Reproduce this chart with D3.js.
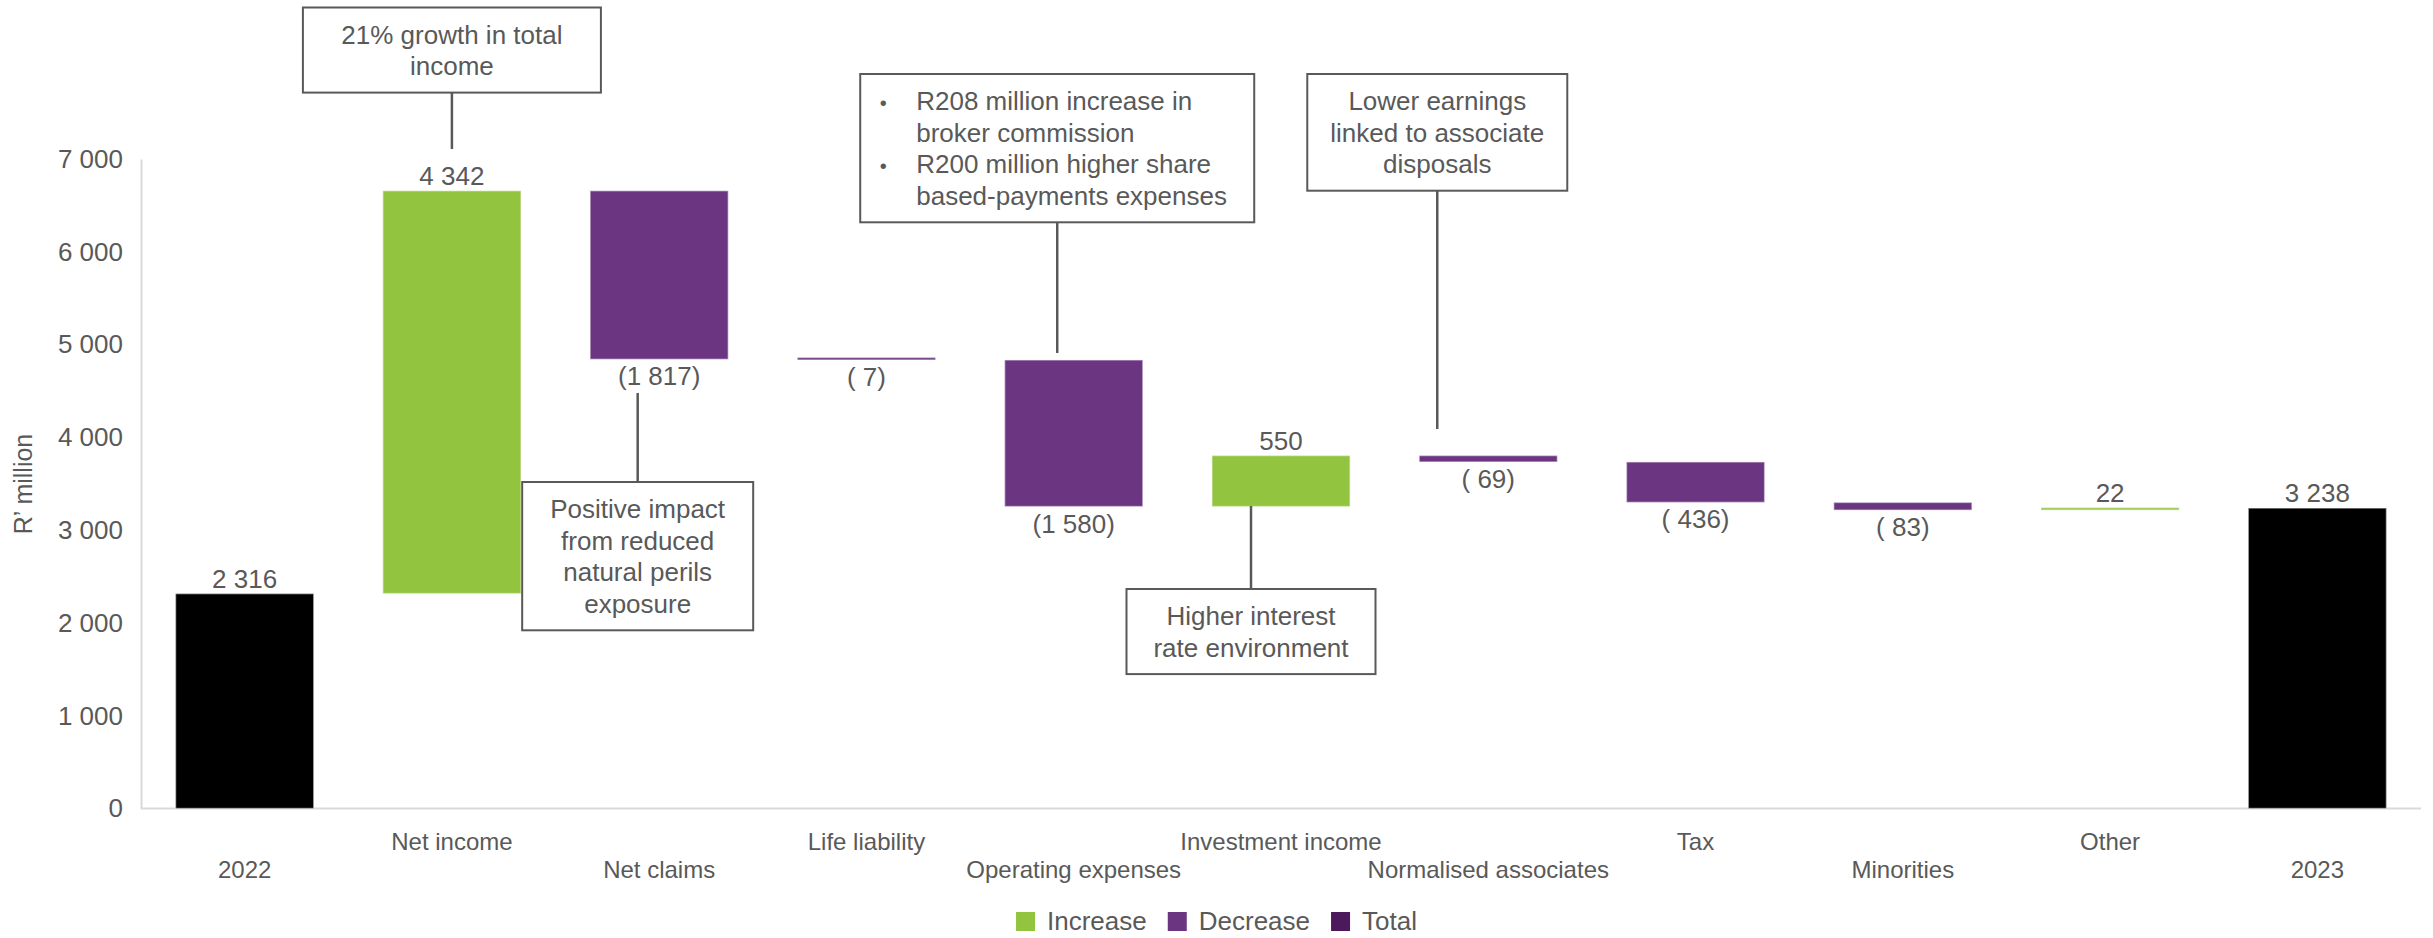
<!DOCTYPE html>
<html>
<head>
<meta charset="utf-8">
<script src="https://cdn.jsdelivr.net/npm/d3@7"></script>
<style>
  html, body { margin: 0; padding: 0; background: #ffffff; }
  svg { display: block; font-family: "Liberation Sans", Arial, sans-serif; }
</style>
</head>
<body>
<svg id="chart" width="2433" height="938"></svg>
<script>
// Earnings bridge, R' million
const categories = ["2022", "Net income", "Net claims", "Life liability", "Operating expenses",
  "Investment income", "Normalised associates", "Tax", "Minorities", "Other", "2023"];
const changes = [2316, 4342, -1817, -7, -1580, 550, -69, -436, -83, 22, 3238];
const kinds = ["total", "increase", "decrease", "decrease", "decrease",
  "increase", "decrease", "decrease", "decrease", "increase", "total"];
const yTicks = [0, 1000, 2000, 3000, 4000, 5000, 6000, 7000];
const legendItems = ["Increase", "Decrease", "Total"];

const colors = { increase: "#92c43f", decrease: "#6c3582", total: "#000000" };
const legendColors = { Increase: "#92c43f", Decrease: "#6c3582", Total: "#4c1a5c" };
const textColor = "#595959";

// Callout boxes attached to individual steps
const notes = [
  { cat: "Net income", lines: ["21% growth in total", "income"], top: 7.5, width: 298, dx: 0, side: "above", lineY: 149 },
  { cat: "Net claims", lines: ["Positive impact", "from reduced", "natural perils", "exposure"], top: 482, width: 231, dx: -21.5, side: "below", lineY: 393 },
  { cat: "Operating expenses", lines: ["R208 million increase in", "broker commission", "R200 million higher share", "based-payments expenses"],
    bullets: [true, false, true, false], top: 74, width: 394, dx: -16.5, side: "above", lineY: 353 },
  { cat: "Investment income", lines: ["Higher interest", "rate environment"], top: 589, width: 249, dx: -30, side: "below", lineY: 506 },
  { cat: "Normalised associates", lines: ["Lower earnings", "linked to associate", "disposals"], top: 74, width: 260, dx: -51, side: "above", lineY: 429 }
];

const svg = d3.select("#chart");

const x = d3.scaleBand().domain(categories).range([141, 2421]).paddingInner(1 / 3).paddingOuter(1 / 6);
const y = d3.scaleLinear().domain([0, 7000]).range([808.5, 159]);

// Running levels for the waterfall
let level = 0;
const steps = categories.map((c, i) => {
  let lo, hi;
  if (kinds[i] === "total") { lo = 0; hi = changes[i]; level = changes[i]; }
  else { const next = level + changes[i]; lo = Math.min(level, next); hi = Math.max(level, next); level = next; }
  return { cat: c, value: changes[i], kind: kinds[i], lo, hi };
});

const fmtInt = v => d3.format(",")(v).replace(/,/g, " ");
const fmtLabel = v => v >= 0 ? fmtInt(v) : (Math.abs(v) < 1000 ? "( " + fmtInt(-v) + ")" : "(" + fmtInt(-v) + ")");

// Y axis
const yAxis = svg.append("g")
  .attr("transform", `translate(${x.range()[0]},0)`)
  .call(d3.axisLeft(y).tickValues(yTicks).tickSize(0).tickPadding(18).tickFormat(fmtInt));
yAxis.select(".domain").attr("stroke", "#d9d9d9").attr("stroke-width", 2);
yAxis.selectAll("text").attr("fill", textColor).attr("font-size", 26)
  .attr("font-family", "\"Liberation Sans\", Arial, sans-serif");

svg.append("text")
  .attr("transform", `translate(32,484) rotate(-90)`)
  .attr("text-anchor", "middle")
  .attr("fill", textColor).attr("font-size", 25)
  .text("R\u2019 million");

// X axis baseline
svg.append("line")
  .attr("x1", x.range()[0]).attr("x2", x.range()[1])
  .attr("y1", y(0)).attr("y2", y(0))
  .attr("stroke", "#d9d9d9").attr("stroke-width", 2);

// Category labels, staggered on two rows
svg.append("g").selectAll("text").data(categories).join("text")
  .attr("x", d => x(d) + x.bandwidth() / 2)
  .attr("y", (d, i) => i % 2 === 1 ? 850 : 878)
  .attr("text-anchor", "middle")
  .attr("fill", textColor).attr("font-size", 24)
  .text(d => d);

// Bars (very small steps keep a visible sliver)
svg.append("g").selectAll("rect").data(steps).join("rect")
  .attr("x", d => x(d.cat))
  .attr("width", x.bandwidth())
  .attr("y", d => Math.min(y(d.hi), y(d.lo) - 2.5))
  .attr("height", d => Math.max(2.5, y(d.lo) - y(d.hi)))
  .attr("fill", d => colors[d.kind])
  .attr("stroke", "#ffffff").attr("stroke-opacity", 0.45).attr("stroke-width", 1.5);

// Value labels
svg.append("g").selectAll("text").data(steps).join("text")
  .attr("x", d => x(d.cat) + x.bandwidth() / 2)
  .attr("y", d => d.value >= 0 ? y(d.hi) - 6 : y(d.lo) + 26)
  .attr("text-anchor", "middle")
  .attr("fill", textColor).attr("font-size", 26)
  .text(d => fmtLabel(d.value));

// Callouts
const lineH = 31.6;
notes.forEach(n => {
  const cx = x(n.cat) + x.bandwidth() / 2 + n.dx;
  const h = 36 + (n.lines.length - 1) * lineH + 17.5;
  const left = cx - n.width / 2;
  const g = svg.append("g");
  g.append("rect")
    .attr("x", left).attr("y", n.top).attr("width", n.width).attr("height", h)
    .attr("fill", "#ffffff").attr("stroke", textColor).attr("stroke-width", 2);
  const y1 = n.side === "above" ? n.top + h : n.lineY;
  const y2 = n.side === "above" ? n.lineY : n.top;
  g.append("line").attr("x1", cx).attr("x2", cx).attr("y1", y1).attr("y2", y2)
    .attr("stroke", textColor).attr("stroke-width", 2.5);
  n.lines.forEach((t, i) => {
    const by = n.top + 36 + i * lineH;
    if (n.bullets) {
      if (n.bullets[i]) {
        g.append("text").attr("x", left + 23).attr("y", by).attr("text-anchor", "middle")
          .attr("fill", textColor).attr("font-size", 20).text("\u2022");
      }
      g.append("text").attr("x", left + 56).attr("y", by)
        .attr("fill", textColor).attr("font-size", 26).text(t);
    } else {
      g.append("text").attr("x", cx).attr("y", by).attr("text-anchor", "middle")
        .attr("fill", textColor).attr("font-size", 26).text(t);
    }
  });
});

// Legend, centred on the page
const legend = svg.append("g");
let lx = 0;
legendItems.forEach(name => {
  const item = legend.append("g").attr("transform", `translate(${lx},0)`);
  item.append("rect").attr("x", 0).attr("y", 912).attr("width", 19).attr("height", 19)
    .attr("fill", legendColors[name]);
  const t = item.append("text").attr("x", 31).attr("y", 930)
    .attr("fill", textColor).attr("font-size", 26).text(name);
  lx += 31 + t.node().getComputedTextLength() + 21;
});
const legendW = lx - 21;
legend.attr("transform", `translate(${2433 / 2 - legendW / 2},0)`);
</script>
</body>
</html>
